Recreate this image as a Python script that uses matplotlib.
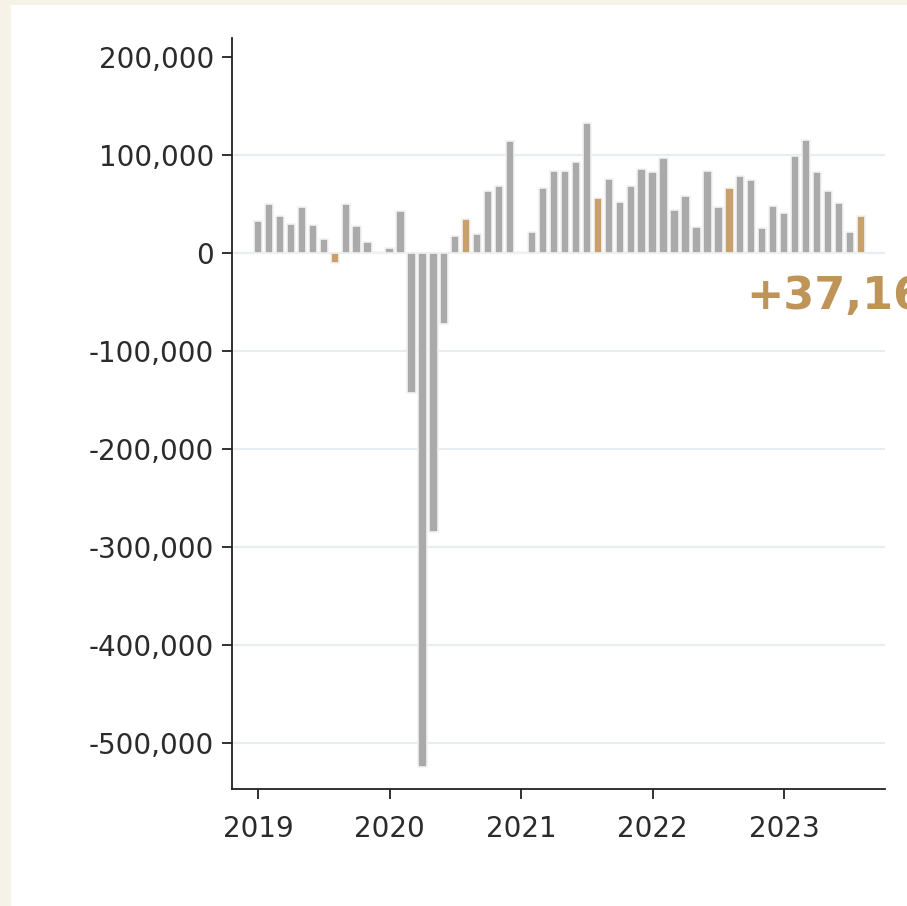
import matplotlib.pyplot as plt
from matplotlib.patches import Rectangle
from matplotlib.ticker import FuncFormatter

# monthly change, Jan 2019 .. Aug 2023
months = list(range(56))
values = [
    32000, 50000, 37000, 29000, 47000, 28500, 14000, -11000, 50000, 27500, 11000, 500,
    5000, 43000, -143000, -525000, -285000, -73000, 17500, 34000, 19000, 63000, 68000, 114000,
    500, 21000, 66500, 83000, 83500, 93000, 132000, 56000, 75000, 51500, 68000, 85500,
    82000, 96500, 44000, 58000, 26000, 83000, 47000, 66000, 78000, 74000, 25500, 48000,
    40000, 99000, 115000, 82000, 63000, 51000, 21000, 37166,
]
highlight = [7, 19, 31, 43, 55]  # August of each year
year_ticks = [0, 12, 24, 36, 48]
year_labels = ['2019', '2020', '2021', '2022', '2023']
y_ticks = [200000, 100000, 0, -100000, -200000, -300000, -400000, -500000]
last_label = '+37,166'

GRAY = '#aaaaaa'
GOLD = '#c8a06b'
TEXT = '#2b2b2b'

fig = plt.figure(figsize=(9.07, 9.06), dpi=100)
fig.patch.set_facecolor('#f7f2e7')
fig.add_artist(Rectangle((11 / 907, 0), 1, 1 - 5 / 906, transform=fig.transFigure,
                         facecolor='white', edgecolor='none', zorder=0))

ax = fig.add_axes([232 / 907, 1 - 789 / 906, (885 - 232) / 907, (789 - 38) / 906])
ax.set_facecolor('none')

colors = [GOLD if m in highlight else GRAY for m in months]
ax.bar(months, values, width=0.76, color=colors, edgecolor='#f2f2f2', linewidth=1.2, zorder=3)

for v in y_ticks:
    if v < 200000:
        ax.axhline(v, color='#e6eef1', linewidth=1.6, zorder=1)

ax.set_xlim(-2.37, 57.2)
ax.set_ylim(-547000, 219000)
ax.set_yticks(y_ticks)
ax.yaxis.set_major_formatter(FuncFormatter(lambda v, p: f'{int(v):,}'))
ax.set_xticks(year_ticks)
ax.set_xticklabels(year_labels)

for s in ['top', 'right']:
    ax.spines[s].set_visible(False)
for s in ['left', 'bottom']:
    ax.spines[s].set_color('#222222')
    ax.spines[s].set_linewidth(1.3)

ax.tick_params(axis='y', length=7, width=1.3, color='#222222', pad=6,
               labelsize=20, labelcolor=TEXT)
ax.tick_params(axis='x', length=7, width=1.3, color='#222222', pad=12,
               labelsize=20, labelcolor=TEXT)

ax.text(44.5, -45000, last_label, ha='left', va='center', fontsize=32,
        fontweight='bold', color='#bf9459', clip_on=False)

fig.savefig('out.png', dpi=100, facecolor=fig.get_facecolor())
